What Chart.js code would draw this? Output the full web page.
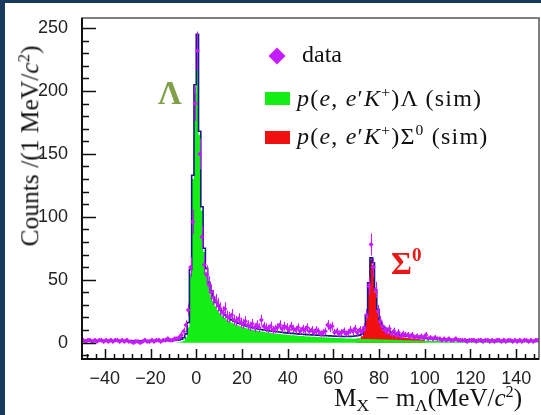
<!DOCTYPE html>
<html>
<head>
<meta charset="utf-8">
<script src="https://cdn.jsdelivr.net/npm/chart.js@4.4.0/dist/chart.umd.min.js"></script>
<style>
  html, body { margin: 0; padding: 0; }
  body { width: 541px; height: 415px; background: #183a5c; position: relative; overflow: hidden; }
  #panel { position: absolute; left: 5px; top: 3px; width: 536px; height: 412px; background: #fff; }
  #chart { position: absolute; left: 5px; top: 3px; }
  .t { position: absolute; font-family: 'Liberation Serif', 'Times New Roman', serif; white-space: nowrap; line-height: 1; color: #111; }
  .sb { font-size: 70%; position: relative; top: 0.3em; }
  .sp { font-size: 65%; position: relative; top: -0.55em; }
  .leg { font-size: 24px; }
  .frm { letter-spacing: 1.2px; }
  .box { position: absolute; width: 25px; height: 13px; }
</style>
</head>
<body>
<div id="panel"></div>
<canvas id="chart" width="536" height="412"></canvas>

<div class="t" style="left:30px; top:146px; font-size:25.5px; transform: translate(-50%,-50%) rotate(-90deg);">Counts /(1 MeV/<i>c</i><span class="sp">2</span>)</div>
<div class="t" style="right:19px; top:385px; font-size:25px;">M<span class="sb">X</span> − m<span class="sb">Λ</span>(MeV/<i>c</i><span class="sp">2</span>)</div>

<div style="position:absolute; left:271px; top:50px; width:12px; height:12px; background:#c51cff; transform: rotate(45deg);"></div>
<div class="t leg" style="left:302px; top:42px;">data</div>
<div class="box" style="left:265px; top:92px; background:#14ee14;"></div>
<div class="t leg frm" style="left:297px; top:86px;"><i>p</i>(<i>e</i>, <i>e</i>′<i>K</i><span class="sp">+</span>)Λ (sim)</div>
<div class="box" style="left:265px; top:131px; background:#f01010;"></div>
<div class="t leg frm" style="left:297px; top:124px;"><i>p</i>(<i>e</i>, <i>e</i>′<i>K</i><span class="sp">+</span>)Σ<span class="sp">0</span> (sim)</div>

<div class="t" style="left:158px; top:77px; font-size:33px; font-weight:bold; color:#7f9f48;">Λ</div>
<div class="t" style="left:391px; top:247px; font-size:32px; font-weight:bold; color:#e81818;">Σ<span style="font-size:60%; position:relative; top:-0.7em;">0</span></div>

<script>
'use strict';

// histogram binning: 1 MeV bins from -50 to 150
let xMin = -50;
let xMax = 150;
let yMin = -13;
let yMax = 258;

let xTickLabels = [-40, -20, 0, 20, 40, 60, 80, 100, 120, 140];
let yTickLabels = [0, 50, 100, 150, 200, 250];

// measured counts per bin (bins -50 ... 149)
let dataCounts = [
  2, 1, 2, 2, 1, 2, 1, 2, 2, 1,
  2, 1, 2, 1, 2, 2, 1, 2, 1, 2,
  1, 1, 0, 1, 1, 0, 1, 2, 1, 1,
  2, 1, 2, 2, 1, 2, 2, 3, 2, 2,
  3, 3, 4, 6, 9, 14, 26, 60, 96, 190,
  232, 150, 84, 62, 54, 46, 40, 36, 33, 30,
  27, 24, 27, 21, 20, 22, 18, 17, 19, 16,
  15, 17, 14, 13, 15, 12, 14, 12, 18, 13,
  12, 11, 13, 10, 11, 12, 14, 11, 13, 12,
  10, 13, 11, 10, 12, 9, 11, 10, 12, 9,
  10, 8, 10, 9, 7, 8, 9, 14, 12, 13,
  8, 9, 7, 8, 9, 7, 8, 10, 9, 11,
  8, 10, 9, 12, 22, 45, 78, 60, 42, 25,
  17, 13, 10, 9, 11, 7, 9, 6, 8, 5,
  7, 6, 6, 5, 6, 4, 5, 4, 5, 4,
  6, 3, 4, 3, 4, 3, 3, 2, 3, 2,
  3, 2, 2, 3, 2, 2, 2, 2, 1, 2,
  2, 2, 1, 2, 2, 1, 2, 2, 1, 2,
  1, 2, 2, 1, 2, 1, 2, 2, 1, 2,
  1, 2, 1, 2, 2, 1, 2, 1, 2, 2
];

// simulated p(e,e'K+)Lambda
let lambdaSim = [
  0, 0, 0, 0, 0, 0, 0, 0, 0, 0,
  0, 0, 0, 0, 0, 0, 0, 0, 0, 0,
  0, 0, 0, 0, 0, 0, 0, 0, 0, 0,
  0, 0, 0, 0, 0, 0, 0, 0, 0, 0,
  0, 0.2, 0.4, 0.8, 1.5, 4, 12, 55, 130, 198,
  228, 165, 105, 72, 56, 45, 38, 33, 29, 26,
  23.5, 21.5, 19.8, 18.4, 17.2, 16.1, 15.2, 14.4, 13.7, 13.0,
  12.4, 11.8, 11.3, 10.8, 10.4, 10.0, 9.6, 9.2, 8.9, 8.6,
  8.3, 8.0, 7.8, 7.5, 7.3, 7.1, 6.9, 6.7, 6.5, 6.3,
  6.1, 5.9, 5.8, 5.6, 5.5, 5.3, 5.2, 5.1, 4.9, 4.8,
  4.7, 4.6, 4.5, 4.4, 4.3, 4.2, 4.1, 4.0, 3.9, 3.8,
  3.7, 3.6, 3.6, 3.5, 3.4, 3.3, 3.3, 3.2, 3.1, 3.1,
  3.0, 3.0, 2.9, 2.9, 2.8, 2.8, 2.7, 2.7, 2.6, 2.6,
  2.5, 2.5, 2.4, 2.4, 2.3, 2.3, 2.2, 2.2, 2.1, 2.1,
  2.0, 2.0, 1.9, 1.9, 1.8, 1.8, 1.7, 1.7, 1.6, 1.6,
  1.5, 1.5, 1.4, 1.4, 1.3, 1.3, 1.3, 1.2, 1.2, 1.2,
  1.1, 1.1, 1.1, 1.0, 1.0, 1.0, 0.9, 0.9, 0.9, 0.9,
  0.8, 0.8, 0.8, 0.8, 0.7, 0.7, 0.7, 0.7, 0.6, 0.6,
  0.6, 0.6, 0.6, 0.5, 0.5, 0.5, 0.5, 0.5, 0.5, 0.4,
  0.4, 0.4, 0.4, 0.4, 0.4, 0.3, 0.3, 0.3, 0.3, 0.3
];

// simulated p(e,e'K+)Sigma0, stacked on top of the Lambda histogram
let sigmaSim = [
  0, 0, 0, 0, 0, 0, 0, 0, 0, 0,
  0, 0, 0, 0, 0, 0, 0, 0, 0, 0,
  0, 0, 0, 0, 0, 0, 0, 0, 0, 0,
  0, 0, 0, 0, 0, 0, 0, 0, 0, 0,
  0, 0, 0, 0, 0, 0, 0, 0, 0, 0,
  0, 0, 0, 0, 0, 0, 0, 0, 0, 0,
  0, 0, 0, 0, 0, 0, 0, 0, 0, 0,
  0, 0, 0, 0, 0, 0, 0, 0, 0, 0,
  0, 0, 0, 0, 0, 0, 0, 0, 0, 0,
  0, 0, 0, 0, 0, 0, 0, 0, 0, 0,
  0, 0, 0, 0, 0, 0, 0, 0, 0, 0,
  0, 0, 0, 0, 0, 0, 0, 0, 0, 0,
  3.2, 3.3, 5.0, 10, 20, 46, 66, 62, 40, 25,
  16, 12, 10, 8.5, 7.5, 6.5, 6.0, 5.5, 5.0, 4.5,
  4.2, 3.9, 3.6, 3.4, 3.2, 3.0, 2.8, 2.6, 2.5, 2.4,
  0, 0, 0, 0, 0, 0, 0, 0, 0, 0,
  0, 0, 0, 0, 0, 0, 0, 0, 0, 0,
  0, 0, 0, 0, 0, 0, 0, 0, 0, 0,
  0, 0, 0, 0, 0, 0, 0, 0, 0, 0,
  0, 0, 0, 0, 0, 0, 0, 0, 0, 0
];

// total simulation (outline)
let totalSim = [
  1.4, 1.5, 1.6, 1.5, 1.4, 1.5, 1.6, 1.5, 1.5, 1.4,
  1.5, 1.6, 1.5, 1.4, 1.5, 1.5, 1.6, 1.5, 1.4, 1.5,
  1.5, 1.4, 1.5, 1.6, 1.5, 1.5, 1.4, 1.5, 1.6, 1.5,
  1.5, 1.6, 1.5, 1.5, 1.4, 1.5, 1.6, 1.5, 1.5, 1.6,
  1.7, 1.9, 2.2, 2.8, 4, 7, 16, 58, 133, 205,
  245, 168, 108, 75, 59, 48, 41, 36, 32, 29,
  26, 24, 22, 20.5, 19.2, 18.1, 17.1, 16.3, 15.5, 14.8,
  14.1, 13.5, 12.9, 12.4, 11.9, 11.5, 11.1, 10.7, 10.4, 10.1,
  9.8, 9.5, 9.3, 9.0, 8.8, 8.6, 8.4, 8.2, 8.0, 7.8,
  7.6, 7.4, 7.3, 7.1, 7.0, 6.8, 6.7, 6.6, 6.4, 6.3,
  6.2, 6.1, 6.0, 5.9, 5.8, 5.7, 5.6, 5.5, 5.4, 5.3,
  5.2, 5.1, 5.1, 5.0, 4.9, 4.9, 4.9, 5.0, 5.1, 5.3,
  5.6, 6.0, 6.8, 11.5, 21.5, 47.5, 67.5, 63.5, 41.5, 26.5,
  17.5, 13.5, 11.5, 10.0, 9.0, 8.0, 7.5, 7.0, 6.5, 6.0,
  5.7, 5.4, 5.1, 4.9, 4.7, 4.5, 4.3, 4.1, 3.9, 3.7,
  3.5, 3.4, 3.3, 3.2, 3.1, 3.0, 2.9, 2.8, 2.7, 2.7,
  2.6, 2.5, 2.5, 2.4, 2.4, 2.3, 2.3, 2.2, 2.2, 2.1,
  2.1, 2.1, 2.0, 2.0, 2.0, 1.9, 1.9, 1.9, 1.8, 1.8,
  1.8, 1.8, 1.7, 1.7, 1.7, 1.7, 1.6, 1.6, 1.6, 1.6,
  1.6, 1.5, 1.5, 1.5, 1.5, 1.5, 1.5, 1.4, 1.4, 1.4
];

let violet = '#c51cff';
let navy = '#1a1a86';
let green = '#14ee14';
let red = '#f01010';

// step histogram: one point per low bin edge plus closing edge
function histPoints(values) {
  let pts = [];
  for (let i = 0; i < values.length; i++) {
    pts.push({x: xMin + i, y: values[i]});
  }
  pts.push({x: xMin + values.length, y: values[values.length - 1]});
  return pts;
}

function dataPoints() {
  let pts = [];
  for (let i = 0; i < dataCounts.length; i++) {
    pts.push({x: xMin + i + 0.5, y: dataCounts[i]});
  }
  return pts;
}

// error bars under the markers, frame + inward ticks on top
let rootStyle = {
  id: 'rootStyle',
  beforeDatasetDraw(chart, args) {
    if (args.index !== 0) return;
    let ctx = chart.ctx;
    let xs = chart.scales.x;
    let ys = chart.scales.y;
    let area = chart.chartArea;
    ctx.save();
    ctx.beginPath();
    ctx.rect(area.left, area.top, area.right - area.left, area.bottom - area.top);
    ctx.clip();
    ctx.strokeStyle = violet;
    ctx.lineWidth = 1.1;
    ctx.beginPath();
    for (let i = 0; i < dataCounts.length; i++) {
      let n = dataCounts[i];
      if (n <= 0) continue;
      let err = Math.sqrt(n);
      let c = xMin + i + 0.5;
      let px = Math.round(xs.getPixelForValue(c)) + 0.5;
      let py = ys.getPixelForValue(n);
      ctx.moveTo(xs.getPixelForValue(c - 0.5), py);
      ctx.lineTo(xs.getPixelForValue(c + 0.5), py);
      ctx.moveTo(px, ys.getPixelForValue(n - err));
      ctx.lineTo(px, ys.getPixelForValue(n + err));
    }
    ctx.stroke();
    ctx.restore();
  },
  afterDraw(chart) {
    let ctx = chart.ctx;
    let xs = chart.scales.x;
    let ys = chart.scales.y;
    let a = chart.chartArea;
    ctx.save();
    ctx.strokeStyle = '#555';
    ctx.lineWidth = 1.5;
    ctx.strokeRect(a.left, a.top, a.right - a.left, a.bottom - a.top);
    ctx.strokeStyle = '#111';
    ctx.lineWidth = 2;
    ctx.beginPath();
    ctx.moveTo(a.left, a.top);
    ctx.lineTo(a.left, a.bottom);
    ctx.lineTo(a.right, a.bottom);
    ctx.stroke();
    ctx.lineWidth = 1.5;
    ctx.beginPath();
    for (let v = -48; v < xMax; v += 4) {
      let px = Math.round(xs.getPixelForValue(v)) + 0.5;
      let len = xTickLabels.includes(v) ? 10 : 5;
      ctx.moveTo(px, a.bottom);
      ctx.lineTo(px, a.bottom - len);
    }
    for (let v = -10; v <= yMax; v += 10) {
      let py = Math.round(ys.getPixelForValue(v)) + 0.5;
      let len = yTickLabels.includes(v) ? 14 : 7;
      ctx.moveTo(a.left, py);
      ctx.lineTo(a.left + len, py);
    }
    ctx.stroke();
    ctx.restore();
  }
};

let tickFont = {family: "'Liberation Sans', Arial, sans-serif", size: 18, lineHeight: 1};

function minusLabel(value) {
  return value < 0 ? '\u2212' + Math.abs(value) : String(value);
}

let ctx = document.getElementById('chart').getContext('2d');
new Chart(ctx, {
  type: 'line',
  data: {
    datasets: [
      {
        label: 'data',
        data: dataPoints(),
        showLine: false,
        pointStyle: 'rectRot',
        pointRadius: 2.5,
        pointBackgroundColor: violet,
        pointBorderWidth: 0,
        order: 0
      },
      {
        label: 'total sim',
        data: histPoints(totalSim),
        stepped: true,
        borderColor: navy,
        borderWidth: 1.6,
        pointRadius: 0,
        fill: false,
        order: 1
      },
      {
        label: "p(e,e'K+)Lambda (sim)",
        data: histPoints(lambdaSim),
        stepped: true,
        borderColor: 'transparent',
        borderWidth: 0,
        backgroundColor: green,
        pointRadius: 0,
        fill: 'origin',
        order: 2
      },
      {
        label: "p(e,e'K+)Sigma0 (sim)",
        data: histPoints(sigmaSim),
        stepped: true,
        borderColor: 'transparent',
        borderWidth: 0,
        backgroundColor: red,
        pointRadius: 0,
        fill: 'origin',
        order: 3
      }
    ]
  },
  options: {
    responsive: false,
    animation: false,
    devicePixelRatio: 1,
    layout: {autoPadding: false, padding: {top: 12, right: 2, left: 0, bottom: 0}},
    plugins: {
      legend: {display: false},
      tooltip: {enabled: false}
    },
    scales: {
      x: {
        type: 'linear',
        min: xMin,
        max: xMax,
        grid: {display: false},
        border: {display: false},
        ticks: {font: tickFont, color: '#222', padding: 3, maxRotation: 0, autoSkip: false, callback: minusLabel},
        afterBuildTicks(scale) { scale.ticks = xTickLabels.map(v => ({value: v})); },
        afterFit(scale) { scale.height = 56; }
      },
      y: {
        type: 'linear',
        min: yMin,
        max: yMax,
        grid: {display: false},
        border: {display: false},
        ticks: {font: tickFont, color: '#222', padding: 6, autoSkip: false, callback: minusLabel},
        afterBuildTicks(scale) { scale.ticks = yTickLabels.map(v => ({value: v})); },
        afterFit(scale) { scale.width = 77; }
      }
    }
  },
  plugins: [rootStyle]
});
</script>
</body>
</html>
